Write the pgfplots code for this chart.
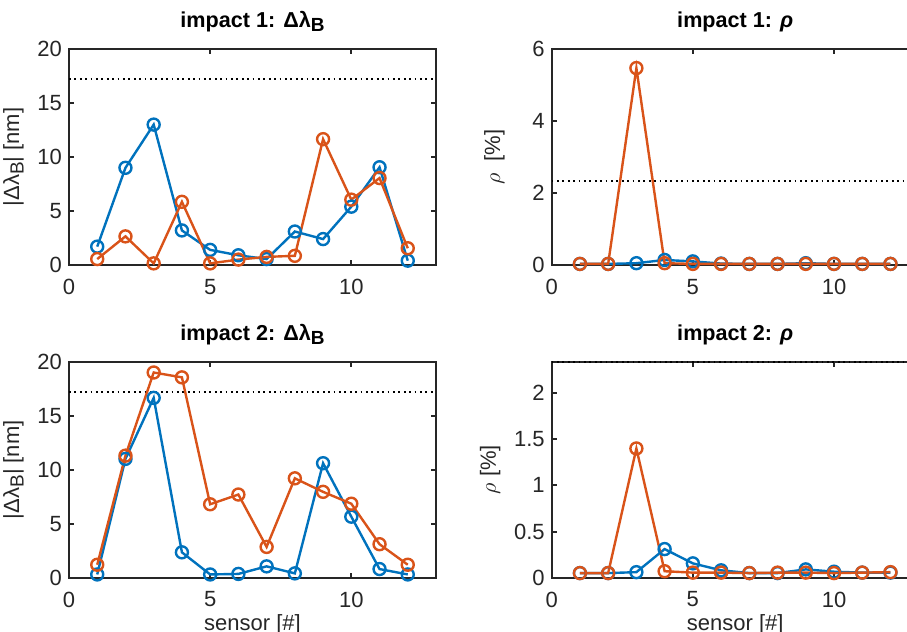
\documentclass[border=0pt]{standalone}
\usepackage{fontspec}
\setmainfont{Liberation Sans}
\usepackage{pgfplots}
\pgfplotsset{compat=1.18}

\definecolor{mblue}{rgb}{0,0.447,0.741}
\definecolor{morange}{rgb}{0.850,0.325,0.098}
\definecolor{axgray}{rgb}{0.15,0.15,0.15}

\pgfplotsset{
  mat/.style={
    scale only axis, width=183.5pt, height=108pt,
    xmin=0, xmax=13, xtick={0,5,10},
    axis line style={axgray, line width=1pt},
    tick style={axgray, line width=1pt},
    major tick length=2.5pt, tick align=inside,
    /pgf/number format/assume math mode=true,
    tick label style={font=\fontsize{11}{13}\selectfont, text=axgray},
    xticklabel style={yshift=-3.5pt},
    label style={font=\fontsize{11}{13}\selectfont, text=axgray},
    xlabel style={yshift=3.5pt},
    title style={font=\fontsize{10.8}{12}\selectfont\bfseries, yshift=-1pt},
    clip=false,
  },
  s1/.style={mblue, line width=1.2pt, mark=o, mark size=3pt, mark options={solid, line width=1.2pt}},
  s2/.style={morange, line width=1.2pt, mark=o, mark size=3pt, mark options={solid, line width=1.2pt}},
  thr/.style={black, line width=0.9pt, dash pattern=on 0.9pt off 1.8pt},
}

\begin{document}
\begin{tikzpicture}
\useasboundingbox (0,0) rectangle (453.5pt,316pt);
\clip (0,0) rectangle (453.5pt,316pt);

% impact 1, wavelength shift
\begin{axis}[mat, at={(34.5pt,183.5pt)}, anchor=south west,
  ymin=0, ymax=20, ytick={0,5,10,15,20},
  title={impact 1: Δλ\raisebox{-0.35ex}{\fontsize{9.5}{10}\selectfont B}},
  ylabel={|Δλ\raisebox{-0.4ex}{\fontsize{9.5}{10}\selectfont B}| [nm]}]
\addplot[thr] coordinates {(0,17.2) (13,17.2)};
\addplot[s1] coordinates {(1,1.7) (2,9.0) (3,13.0) (4,3.2) (5,1.4) (6,0.9) (7,0.55) (8,3.1) (9,2.4) (10,5.4) (11,9.05) (12,0.4)};
\addplot[s2] coordinates {(1,0.55) (2,2.65) (3,0.15) (4,5.85) (5,0.15) (6,0.5) (7,0.75) (8,0.85) (9,11.65) (10,6.05) (11,8.05) (12,1.55)};
\end{axis}

% impact 1, rho
\begin{axis}[mat, at={(275.85pt,183.5pt)}, anchor=south west,
  ymin=0, ymax=6, ytick={0,2,4,6},
  title={impact 1: \textit{ρ}},
  ylabel={$\rho$\ \ [\%]}, ylabel shift=7pt]
\addplot[thr] coordinates {(0,2.34) (13,2.34)};
\addplot[s1] coordinates {(1,0.03) (2,0.03) (3,0.05) (4,0.14) (5,0.1) (6,0.04) (7,0.03) (8,0.03) (9,0.05) (10,0.03) (11,0.03) (12,0.03)};
\addplot[s2] coordinates {(1,0.03) (2,0.03) (3,5.47) (4,0.05) (5,0.03) (6,0.03) (7,0.03) (8,0.03) (9,0.03) (10,0.03) (11,0.03) (12,0.03)};
\end{axis}

% impact 2, wavelength shift
\begin{axis}[mat, at={(34.5pt,27.15pt)}, anchor=south west,
  ymin=0, ymax=20, ytick={0,5,10,15,20},
  title={impact 2: Δλ\raisebox{-0.35ex}{\fontsize{9.5}{10}\selectfont B}},
  ylabel={|Δλ\raisebox{-0.4ex}{\fontsize{9.5}{10}\selectfont B}| [nm]},
  xlabel={sensor [\#]}]
\addplot[thr] coordinates {(0,17.2) (13,17.2)};
\addplot[s1] coordinates {(1,0.3) (2,11.0) (3,16.65) (4,2.35) (5,0.3) (6,0.35) (7,1.05) (8,0.4) (9,10.6) (10,5.65) (11,0.8) (12,0.3)};
\addplot[s2] coordinates {(1,1.2) (2,11.3) (3,19.0) (4,18.55) (5,6.8) (6,7.7) (7,2.85) (8,9.2) (9,7.95) (10,6.85) (11,3.1) (12,1.2)};
\end{axis}

% impact 2, rho
\begin{axis}[mat, at={(275.85pt,27.15pt)}, anchor=south west,
  ymin=0, ymax=2.34, ytick={0,0.5,1,1.5,2},
  title={impact 2: \textit{ρ}},
  ylabel={$\rho$ [\%]},
  xlabel={sensor [\#]}]
\addplot[thr] coordinates {(0,2.34) (13,2.34)};
\addplot[s1] coordinates {(1,0.05) (2,0.05) (3,0.06) (4,0.31) (5,0.155) (6,0.08) (7,0.05) (8,0.05) (9,0.09) (10,0.065) (11,0.055) (12,0.055)};
\addplot[s2] coordinates {(1,0.05) (2,0.05) (3,1.4) (4,0.07) (5,0.055) (6,0.055) (7,0.05) (8,0.055) (9,0.055) (10,0.05) (11,0.055) (12,0.06)};
\end{axis}
\end{tikzpicture}
\end{document}
